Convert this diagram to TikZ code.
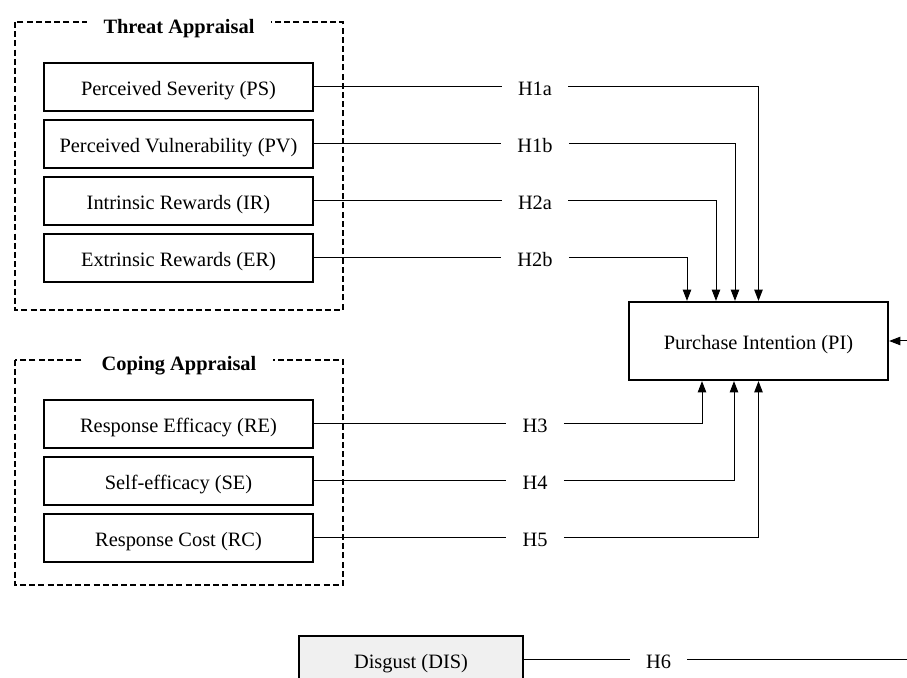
\documentclass[tikz,border=0pt]{standalone}
\usepackage{fontspec}
\setmainfont{Liberation Serif}
\usetikzlibrary{arrows.meta, positioning}

\begin{document}
\begin{tikzpicture}[x=0.5pt, y=-0.5pt, >={Triangle[width=4.2pt,length=5.6pt]},
    every node/.style={font=\fontsize{10.2}{12}\selectfont,
      text height=9pt, text depth=0pt},
    factor/.style={draw, line width=0.7pt, minimum width=134.5pt,
      minimum height=24pt, inner sep=0pt},
    target/.style={draw, line width=1.1pt, minimum width=129.5pt,
      minimum height=39pt, inner sep=0pt},
    hyp/.style={inner xsep=8pt, inner ysep=1pt},
    group/.style={draw, line width=0.9pt, dash pattern=on 3pt off 1.6pt},
    grouptitle/.style={fill=white, inner xsep=8.5pt,
      font=\bfseries\fontsize{10.2}{12}\selectfont},
    link/.style={line width=0.5pt}]
  % Page
  \useasboundingbox (0,0) rectangle (907,678);
  \clip (0,0) rectangle (907,678);

  % Groups
  \draw[group] (15,22) rectangle (343,310);
  \node[grouptitle] (threat) at (179,25) {Threat Appraisal};
  \draw[group] (15,360) rectangle (343,585);
  \node[grouptitle] (coping) at (179,362) {Coping Appraisal};

  % Predictors
  \node[factor] (ps) at (178.5,87)  {Perceived Severity (PS)};
  \node[factor] (pv) at (178.5,144) {Perceived Vulnerability (PV)};
  \node[factor] (ir) at (178.5,201) {Intrinsic Rewards (IR)};
  \node[factor] (er) at (178.5,258) {Extrinsic Rewards (ER)};
  \node[factor] (re) at (178.5,424) {Response Efficacy (RE)};
  \node[factor] (se) at (178.5,481) {Self-efficacy (SE)};
  \node[factor] (rc) at (178.5,538) {Response Cost (RC)};
  \node[factor, fill=black!6, minimum width=112pt]
    (dis) at (411,660) {Disgust (DIS)};

  % Outcome
  \node[target] (pi) at (758.5,341) {Purchase Intention (PI)};

  % Hypotheses
  \node[hyp] (h1a) at (535,87)  {H1a};
  \node[hyp] (h1b) at (535,144) {H1b};
  \node[hyp] (h2a) at (535,201) {H2a};
  \node[hyp] (h2b) at (535,258) {H2b};
  \node[hyp] (h3)  at (535,424) {H3};
  \node[hyp] (h4)  at (535,481) {H4};
  \node[hyp] (h5)  at (535,538) {H5};
  \node[hyp] (h6)  at (658.5,660) {H6};
  \coordinate (back) at (930,660);

  % Paths
  \draw[link] (ps) -- (h1a);
  \draw[link] (pv) -- (h1b);
  \draw[link] (ir) -- (h2a);
  \draw[link] (er) -- (h2b);
  \draw[link] (re) -- (h3);
  \draw[link] (se) -- (h4);
  \draw[link] (rc) -- (h5);
  \draw[link] (dis) -- (h6);
  \draw[link,->] (h1a) -| (pi.north);
  \draw[link,->] (h1b) -| ([xshift=-11.75pt]pi.north);
  \draw[link,->] (h2a) -| ([xshift=-21.25pt]pi.north);
  \draw[link,->] (h2b) -| ([xshift=-35.75pt]pi.north);
  \draw[link,->] (h3) -| ([xshift=-28.25pt]pi.south);
  \draw[link,->] (h4) -| ([xshift=-12.25pt]pi.south);
  \draw[link,->] (h5) -| (pi.south);
  \draw[link,->] (h6) -- (back) |- (pi.east);
\end{tikzpicture}
\end{document}
